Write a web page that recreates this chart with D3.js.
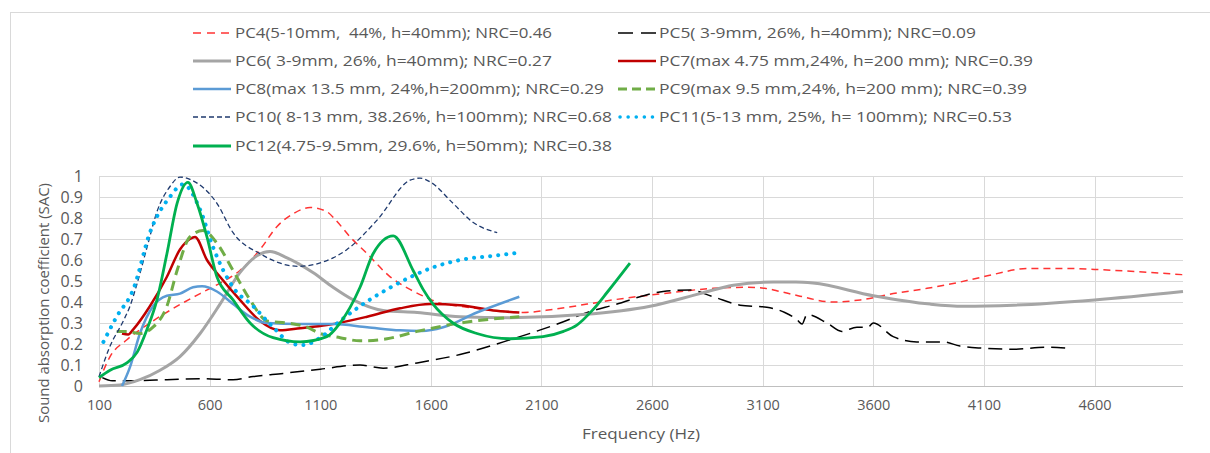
<!DOCTYPE html>
<html><head><meta charset="utf-8">
<script src="https://cdn.jsdelivr.net/npm/d3@7"></script>
<style>html,body{margin:0;padding:0;background:#fff;} svg{display:block;} text{white-space:pre;}</style>
</head><body><svg id="c" width="1210" height="453"></svg>
<script>
// ---------- data ----------
const xTicks = [100, 600, 1100, 1600, 2100, 2600, 3100, 3600, 4100, 4600];
const yTicks = [0, 0.1, 0.2, 0.3, 0.4, 0.5, 0.6, 0.7, 0.8, 0.9, 1];
const yTickLabels = ["0", "0.1", "0.2", "0.3", "0.4", "0.5", "0.6", "0.7", "0.8", "0.9", "1"];
const xTitle = "Frequency (Hz)";
const yTitle = "Sound absorption coefficient (SAC)";

const seriesNames = [
  "PC4(5-10mm,  44%, h=40mm); NRC=0.46",
  "PC5( 3-9mm, 26%, h=40mm); NRC=0.09",
  "PC6( 3-9mm, 26%, h=40mm); NRC=0.27",
  "PC7(max 4.75 mm,24%, h=200 mm); NRC=0.39",
  "PC8(max 13.5 mm, 24%,h=200mm); NRC=0.29",
  "PC9(max 9.5 mm,24%, h=200 mm); NRC=0.39",
  "PC10( 8-13 mm, 38.26%, h=100mm); NRC=0.68",
  "PC11(5-13 mm, 25%, h= 100mm); NRC=0.53",
  "PC12(4.75-9.5mm, 29.6%, h=50mm); NRC=0.38"
];

const pc4Freq = [100,150,226,330,453,557,647,737,828,905,977,1054,1130,1170,1235,1312,1416,1506,1583,1640,1732,1882,2018,2153,2307,2424,2650,2876,3029,3110,3179,3260,3419,3541,3690,3843,3992,4097,4308,4458,4600,5000];
const pc4Sac  = [0.02,0.14,0.22,0.30,0.38,0.44,0.49,0.55,0.65,0.76,0.82,0.85,0.83,0.79,0.71,0.63,0.52,0.46,0.42,0.395,0.38,0.36,0.35,0.365,0.39,0.41,0.44,0.465,0.47,0.465,0.45,0.43,0.40,0.41,0.44,0.465,0.495,0.52,0.56,0.56,0.555,0.53];

const pc5Freq = [115,160,255,407,557,706,797,932,1100,1280,1384,1538,1732,1958,2184,2307,2424,2650,2771,2876,2998,3119,3200,3256,3278,3300,3391,3458,3526,3576,3600,3690,3797,3915,3992,4097,4233,4385,4475];
const pc5Sac  = [0.04,0.025,0.025,0.03,0.035,0.03,0.045,0.06,0.08,0.10,0.085,0.11,0.15,0.22,0.30,0.35,0.385,0.45,0.457,0.425,0.385,0.375,0.35,0.315,0.295,0.34,0.30,0.26,0.28,0.28,0.30,0.235,0.21,0.21,0.19,0.18,0.175,0.185,0.18];

const pc6Freq = [100,195,285,376,466,557,647,737,814,873,950,1067,1158,1249,1384,1538,1732,1958,2288,2591,2817,2967,3148,3250,3327,3600,3857,4007,4233,4600,5000];
const pc6Sac  = [0,0.005,0.03,0.075,0.14,0.25,0.39,0.54,0.62,0.64,0.61,0.54,0.47,0.41,0.36,0.35,0.33,0.325,0.34,0.38,0.44,0.48,0.495,0.495,0.49,0.43,0.39,0.38,0.385,0.41,0.45];

const pc7Freq = [204,232,255,330,407,466,511,534,588,647,737,828,918,1009,1130,1312,1461,1597,1732,1882,2000];
const pc7Sac  = [0.25,0.245,0.27,0.38,0.52,0.65,0.70,0.71,0.60,0.52,0.41,0.31,0.265,0.275,0.29,0.33,0.37,0.39,0.385,0.36,0.35];

const pc8Freq = [204,240,285,344,407,466,525,566,633,706,783,860,1009,1158,1312,1461,1560,1656,1808,2000];
const pc8Sac  = [0,0.09,0.25,0.38,0.43,0.44,0.47,0.475,0.45,0.39,0.33,0.30,0.295,0.295,0.28,0.265,0.262,0.28,0.35,0.425];

const pc9Freq = [180,226,285,344,407,453,511,570,633,706,783,860,950,1040,1100,1190,1280,1402,1538,1732,2000];
const pc9Sac  = [0.26,0.26,0.25,0.28,0.38,0.55,0.71,0.74,0.68,0.55,0.41,0.31,0.30,0.28,0.25,0.23,0.215,0.225,0.26,0.30,0.33];

const pc10Freq = [100,150,210,240,270,317,362,421,466,520,633,706,828,1000,1158,1221,1357,1506,1551,1600,1700,1790,1900];
const pc10Sac  = [0.044,0.19,0.31,0.38,0.48,0.66,0.83,0.95,0.995,0.98,0.87,0.73,0.63,0.57,0.61,0.65,0.79,0.98,0.99,0.97,0.87,0.78,0.73];

const pc11Freq = [120,180,255,330,420,480,557,616,706,797,887,977,1023,1100,1190,1280,1402,1520,1610,1732,1882,2000];
const pc11Sac  = [0.21,0.33,0.46,0.73,0.90,0.96,0.84,0.66,0.47,0.38,0.28,0.20,0.195,0.23,0.31,0.38,0.46,0.525,0.565,0.60,0.62,0.635];

const pc12Freq = [100,150,226,272,317,362,407,453,502,543,588,633,706,783,887,1009,1130,1190,1280,1339,1430,1520,1565,1610,1700,1808,1958,2107,2200,2260,2330,2400,2500];
const pc12Sac  = [0.04,0.075,0.11,0.16,0.27,0.41,0.63,0.87,0.97,0.87,0.71,0.52,0.41,0.30,0.23,0.21,0.235,0.30,0.47,0.63,0.715,0.55,0.46,0.39,0.30,0.25,0.225,0.235,0.26,0.29,0.36,0.45,0.585];

const seriesFreq = [pc4Freq, pc5Freq, pc6Freq, pc7Freq, pc8Freq, pc9Freq, pc10Freq, pc11Freq, pc12Freq];
const seriesSac  = [pc4Sac, pc5Sac, pc6Sac, pc7Sac, pc8Sac, pc9Sac, pc10Sac, pc11Sac, pc12Sac];

// ---------- styles ----------
const styles = [
  {color:"#FF3333", width:1.5, dash:"7,5", cap:"butt", lgDash:"8,6"},
  {color:"#000000", width:1.5, dash:"14,7", cap:"butt", lgDash:"15,8"},
  {color:"#A5A5A5", width:3, dash:null, cap:"butt"},
  {color:"#C00000", width:2.5, dash:null, cap:"butt"},
  {color:"#5B9BD5", width:2.5, dash:null, cap:"butt"},
  {color:"#70AD47", width:3, dash:"10,6", cap:"butt", lgDash:"9,5"},
  {color:"#1F3A6E", width:1.3, dash:"5,3", cap:"butt", lgDash:"5,3"},
  {color:"#00B0F0", width:4, dash:"0.1,8", cap:"round", lgDash:"0.1,8"},
  {color:"#00B050", width:2.8, dash:null, cap:"butt"}
];

const svg = d3.select("#c");
const x = d3.scaleLinear().domain([100, 5000]).range([99, 1183]);
const y = d3.scaleLinear().domain([0, 1]).range([386, 176]);

// outer border
svg.append("line").attr("x1",10).attr("x2",1210).attr("y1",12.5).attr("y2",12.5).attr("stroke","#D9D9D9");
svg.append("line").attr("x1",10.5).attr("x2",10.5).attr("y1",12).attr("y2",453).attr("stroke","#D9D9D9");

// gridlines
const grid = svg.append("g");
grid.selectAll(".hg").data(yTicks.filter(v=>v>0)).enter().append("line")
  .attr("x1", x(100)).attr("x2", x(5000))
  .attr("y1", d=>Math.round(y(d))+0.5).attr("y2", d=>Math.round(y(d))+0.5)
  .attr("stroke","#D9D9D9").attr("stroke-width",1);
grid.selectAll(".vg").data(xTicks).enter().append("line")
  .attr("x1", d=>Math.round(x(d))+0.5).attr("x2", d=>Math.round(x(d))+0.5)
  .attr("y1", y(1)).attr("y2", y(0))
  .attr("stroke","#D9D9D9").attr("stroke-width",1);
// x axis line
svg.append("line").attr("x1", x(100)).attr("x2", x(5000))
  .attr("y1", Math.round(y(0))+0.5).attr("y2", Math.round(y(0))+0.5)
  .attr("stroke","#BFBFBF").attr("stroke-width",1.2);

// axes via d3
const font = "'Open Sans', 'Liberation Sans', sans-serif";
const xAxis = d3.axisBottom(x).tickValues(xTicks).tickSize(0).tickPadding(14).tickFormat(d3.format("d"));
const gx = svg.append("g").attr("transform", `translate(0,${y(0)})`).call(xAxis);
gx.select(".domain").remove();
gx.selectAll("text").attr("fill","#595959").style("font-family",font).style("font-size","14.5px");

const yAxis = d3.axisLeft(y).tickValues(yTicks).tickSize(0).tickPadding(16).tickFormat((d,i)=>yTickLabels[i]);
const gy = svg.append("g").attr("transform", `translate(${x(100)},0)`).call(yAxis);
gy.select(".domain").remove();
gy.selectAll("text").attr("fill","#595959").style("font-family",font).style("font-size","16px");

// axis titles
svg.append("text").attr("x", 641).attr("y", 439).attr("text-anchor","middle")
  .attr("fill","#595959").style("font-family",font).style("font-size","15px")
  .attr("textLength",118).attr("lengthAdjust","spacingAndGlyphs").text(xTitle);
svg.append("text").attr("transform","translate(49,303) rotate(-90)").attr("text-anchor","middle")
  .attr("fill","#595959").style("font-family",font).style("font-size","15px")
  .attr("textLength",240).attr("lengthAdjust","spacingAndGlyphs").text(yTitle);

// series
const lineGen = d3.line().x(d=>x(d[0])).y(d=>y(d[1])).curve(d3.curveMonotoneX);
const plot = svg.append("g");
seriesFreq.forEach((fr, i) => {
  const pts = fr.map((f, j) => [f, seriesSac[i][j]]);
  const st = styles[i];
  const p = plot.append("path").datum(pts).attr("d", lineGen)
    .attr("fill","none").attr("stroke", st.color).attr("stroke-width", st.width)
    .attr("stroke-linecap", st.cap).attr("stroke-linejoin","round");
  if (st.dash) p.attr("stroke-dasharray", st.dash);
});

// legend
const legendPos = [
  {sx:193, tx:235, cy:33, w:317},
  {sx:618, tx:659, cy:33, w:317},
  {sx:193, tx:235, cy:61, w:317},
  {sx:618, tx:659, cy:61, w:374},
  {sx:193, tx:235, cy:89, w:369},
  {sx:618, tx:659, cy:89, w:368},
  {sx:193, tx:235, cy:117, w:377},
  {sx:618, tx:659, cy:117, w:353},
  {sx:193, tx:235, cy:146, w:377}
];
const lg = svg.append("g");
seriesNames.forEach((name, i) => {
  const pos = legendPos[i], st = styles[i];
  const l = lg.append("line").attr("x1", pos.sx + (st.cap==="round"?2:0)).attr("x2", pos.sx + 38)
    .attr("y1", pos.cy).attr("y2", pos.cy)
    .attr("stroke", st.color).attr("stroke-width", Math.min(st.width, 3.5)).attr("stroke-linecap", st.cap);
  if (st.lgDash) l.attr("stroke-dasharray", st.lgDash);
  lg.append("text").attr("x", pos.tx).attr("y", pos.cy).attr("dy","0.35em")
    .attr("fill","#595959").style("font-family",font).style("font-size","15px")
    .attr("textLength", pos.w).attr("lengthAdjust","spacingAndGlyphs").text(name);
});
</script>
</body></html>
